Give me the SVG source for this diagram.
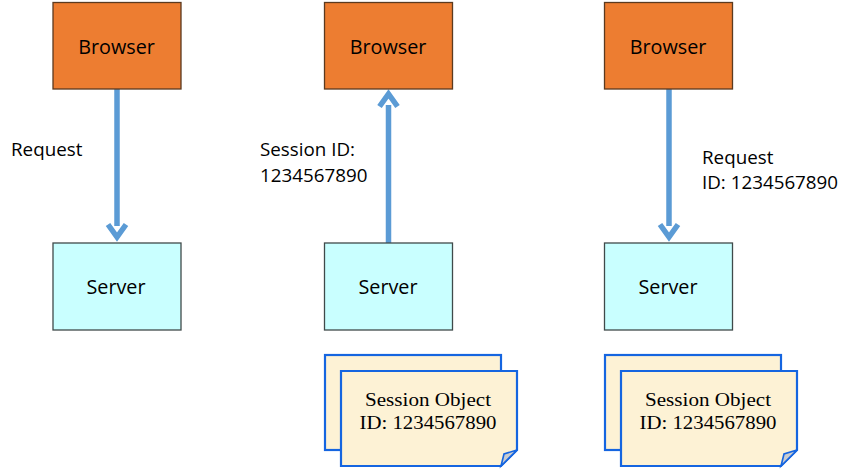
<svg xmlns="http://www.w3.org/2000/svg" width="847" height="469" viewBox="0 0 847 469">
<defs>
<style>
.browser{fill:#ed7d31;stroke:#5b3a20;stroke-width:1.3}
.server{fill:#c9ffff;stroke:#404a4a;stroke-width:1.3}
.node{font-family:"Open Sans","Liberation Sans",sans-serif;font-size:19.800px;fill:#000;text-anchor:middle}
.label{font-family:"Open Sans","Liberation Sans",sans-serif;font-size:18.800px;fill:#000}
.note{fill:#fdf2d5;stroke:#1565e0;stroke-width:2.200}
.fold{fill:#c9ccd0;stroke:#1565e0;stroke-width:1.6}
.notetext{font-family:"Liberation Serif","Times New Roman",serif;font-size:18px;fill:#000;text-anchor:middle}
.wire{fill:none;stroke:#5b9bd5;stroke-width:5.500}
</style>
<marker id="open" markerUnits="userSpaceOnUse" markerWidth="30" markerHeight="24" refX="4" refY="9" orient="auto" overflow="visible">
<path d="M2.500 0L15 9L2.500 18" fill="none" stroke="#5b9bd5" stroke-width="5.500"/>
</marker>
</defs>
<g id="connectors">
<path class="wire" d="M117 89V226" marker-end="url(#open)"/>
<path class="wire" d="M388.500 243V105" marker-end="url(#open)"/>
<path class="wire" d="M669 89V226" marker-end="url(#open)"/>
</g>
<g id="browser1"><rect class="browser" x="53" y="2.500" width="128" height="86.500"/><text class="node" x="116.500" y="53.500">Browser</text></g>
<g id="server1"><rect class="server" x="53" y="243" width="128" height="87"/><text class="node" x="116" y="294">Server</text></g>
<g id="browser2"><rect class="browser" x="324.500" y="2.500" width="128" height="86.500"/><text class="node" x="388" y="53.500">Browser</text></g>
<g id="server2"><rect class="server" x="324.500" y="243" width="128" height="87"/><text class="node" x="388" y="294">Server</text></g>
<g id="browser3"><rect class="browser" x="604.500" y="2.500" width="128" height="86.500"/><text class="node" x="668" y="53.500">Browser</text></g>
<g id="server3"><rect class="server" x="604.500" y="243" width="128" height="87"/><text class="node" x="668" y="294">Server</text></g>
<g id="label-request1"><text class="label" x="11" y="155.500">Request</text></g>
<g id="label-session"><text class="label" x="260" y="155.500">Session ID:</text><text class="label" x="260" y="182">1234567890</text></g>
<g id="label-request2"><text class="label" x="702" y="163.500">Request</text><text class="label" x="702" y="189">ID: 1234567890</text></g>
<g id="session-back-2"><rect class="note" x="325" y="355" width="176" height="95"/></g>
<g id="session-front-2"><path class="note" d="M341 371H517V450L501 466H341Z"/><path class="fold" d="M517 450L504 454L501 466Z"/><text class="notetext" x="428" y="406" textLength="126" lengthAdjust="spacingAndGlyphs">Session Object</text><text class="notetext" x="428" y="429" textLength="137" lengthAdjust="spacingAndGlyphs">ID: 1234567890</text></g>
<g id="session-back-3"><rect class="note" x="605" y="355" width="176" height="95"/></g>
<g id="session-front-3"><path class="note" d="M621 371H797V450L781 466H621Z"/><path class="fold" d="M797 450L784 454L781 466Z"/><text class="notetext" x="708" y="406" textLength="126" lengthAdjust="spacingAndGlyphs">Session Object</text><text class="notetext" x="708" y="429" textLength="137" lengthAdjust="spacingAndGlyphs">ID: 1234567890</text></g>
</svg>
